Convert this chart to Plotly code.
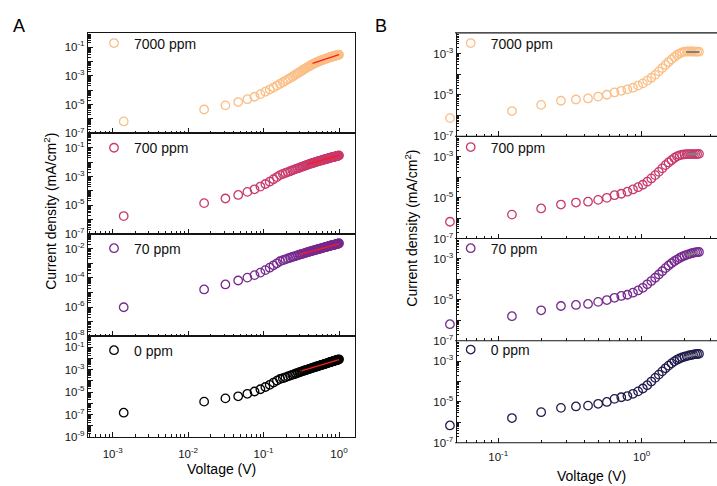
import plotly.graph_objects as go

FONT = "Liberation Sans, Arial, Helvetica, sans-serif"
INK = "#151515"
W, H = 717, 486

# ---------------------------------------------------------------- data
# Bias voltage (V) for the low-voltage sweeps (panel A)
voltage_a = [0.0014, 0.0163, 0.0312, 0.0461, 0.0610, 0.0759, 0.0908, 0.1057, 0.1206, 0.1355,
             0.1504, 0.1653, 0.1802, 0.1951, 0.2100, 0.2249, 0.2398, 0.2547, 0.2696, 0.2845,
             0.2994, 0.3143, 0.3292, 0.3441, 0.3590, 0.3739, 0.3888, 0.4037, 0.4186, 0.4335,
             0.4484, 0.4633, 0.4782, 0.4931, 0.5080, 0.5229, 0.5378, 0.5527, 0.5676, 0.5825,
             0.5974, 0.6123, 0.6272, 0.6421, 0.6570, 0.6719, 0.6868, 0.7017, 0.7166, 0.7315,
             0.7464, 0.7613, 0.7762, 0.7911, 0.8060, 0.8209, 0.8358, 0.8507, 0.8656, 0.8805,
             0.8954, 0.9103, 0.9252, 0.9401, 0.9550, 0.9699, 0.9848, 0.9997]

# Bias voltage (V) for the wide sweeps (panel B)
voltage_b = [0.0460, 0.1245, 0.1990, 0.2735, 0.3480, 0.4225, 0.4970, 0.5715, 0.6460, 0.7205,
             0.7950, 0.8695, 0.9440, 1.0185, 1.0930, 1.1675, 1.2420, 1.3165, 1.3910, 1.4655,
             1.5400, 1.6145, 1.6890, 1.7635, 1.8380, 1.9125, 1.9870, 2.0615, 2.1360, 2.2105,
             2.2850, 2.3595, 2.4340, 2.5085]

series_labels = ["7000 ppm", "700 ppm", "70 ppm", "0 ppm"]

# log10 of current density (mA/cm^2), panel A
logj_a_7000 = [-6.17, -5.34, -5.05, -4.82, -4.62, -4.45, -4.27, -4.10, -3.95, -3.81,
               -3.67, -3.55, -3.44, -3.34, -3.24, -3.15, -3.06, -2.97, -2.89, -2.81,
               -2.74, -2.67, -2.60, -2.54, -2.48, -2.42, -2.37, -2.32, -2.27, -2.22,
               -2.18, -2.14, -2.11, -2.08, -2.05, -2.02, -1.99, -1.97, -1.94, -1.92,
               -1.90, -1.88, -1.86, -1.84, -1.82, -1.80, -1.78, -1.76, -1.74, -1.73,
               -1.71, -1.70, -1.68, -1.67, -1.66, -1.64, -1.63, -1.62, -1.61, -1.60,
               -1.59, -1.58, -1.57, -1.56, -1.55, -1.54, -1.53, -1.52]
logj_a_700 = [-5.75, -4.85, -4.53, -4.28, -4.07, -3.89, -3.70, -3.52, -3.36, -3.19,
              -3.04, -2.90, -2.82, -2.75, -2.69, -2.63, -2.57, -2.52, -2.47, -2.43,
              -2.39, -2.35, -2.31, -2.27, -2.24, -2.20, -2.17, -2.14, -2.11, -2.09,
              -2.06, -2.04, -2.02, -1.99, -1.97, -1.95, -1.93, -1.91, -1.90, -1.88,
              -1.86, -1.85, -1.83, -1.81, -1.80, -1.78, -1.77, -1.76, -1.74, -1.73,
              -1.72, -1.70, -1.69, -1.68, -1.67, -1.66, -1.65, -1.64, -1.63, -1.62,
              -1.61, -1.60, -1.59, -1.58, -1.57, -1.56, -1.55, -1.53]
logj_a_70 = [-6.01, -4.79, -4.45, -4.18, -3.98, -3.81, -3.64, -3.47, -3.30, -3.14,
             -3.00, -2.86, -2.79, -2.73, -2.67, -2.62, -2.57, -2.53, -2.49, -2.45,
             -2.41, -2.38, -2.35, -2.32, -2.29, -2.26, -2.23, -2.21, -2.18, -2.16,
             -2.14, -2.12, -2.10, -2.08, -2.06, -2.04, -2.02, -2.01, -1.99, -1.97,
             -1.96, -1.94, -1.93, -1.91, -1.90, -1.88, -1.87, -1.86, -1.84, -1.83,
             -1.82, -1.80, -1.79, -1.78, -1.77, -1.76, -1.75, -1.74, -1.73, -1.72,
             -1.71, -1.70, -1.69, -1.68, -1.67, -1.66, -1.65, -1.63]
logj_a_0 = [-6.84, -5.85, -5.56, -5.37, -5.15, -4.94, -4.74, -4.54, -4.34, -4.14,
            -3.97, -3.82, -3.75, -3.67, -3.59, -3.52, -3.45, -3.39, -3.33, -3.27,
            -3.22, -3.17, -3.12, -3.08, -3.04, -3.00, -2.96, -2.92, -2.89, -2.85,
            -2.82, -2.79, -2.76, -2.73, -2.70, -2.68, -2.65, -2.62, -2.60, -2.57,
            -2.55, -2.53, -2.51, -2.48, -2.46, -2.44, -2.42, -2.40, -2.38, -2.36,
            -2.34, -2.32, -2.30, -2.29, -2.27, -2.25, -2.23, -2.22, -2.20, -2.18,
            -2.17, -2.15, -2.14, -2.12, -2.11, -2.09, -2.08, -2.06]

# log10 of current density (mA/cm^2), panel B
logj_b_7000 = [-6.12, -5.78, -5.48, -5.28, -5.22, -5.17, -5.08, -4.99, -4.88, -4.80,
               -4.73, -4.65, -4.55, -4.44, -4.31, -4.17, -4.03, -3.86, -3.70, -3.55,
               -3.41, -3.28, -3.17, -3.07, -3.00, -2.94, -2.91, -2.90, -2.90, -2.90,
               -2.90, -2.91, -2.91, -2.91]
logj_b_700 = [-6.18, -5.83, -5.53, -5.34, -5.24, -5.20, -5.11, -5.01, -4.88, -4.81,
              -4.71, -4.60, -4.49, -4.37, -4.22, -4.06, -3.90, -3.74, -3.57, -3.41,
              -3.28, -3.17, -3.06, -2.98, -2.93, -2.90, -2.88, -2.87, -2.87, -2.87,
              -2.87, -2.87, -2.87, -2.86]
logj_b_70 = [-6.19, -5.80, -5.51, -5.30, -5.25, -5.20, -5.10, -5.01, -4.90, -4.81,
             -4.75, -4.65, -4.54, -4.41, -4.24, -4.08, -3.92, -3.76, -3.60, -3.45,
             -3.32, -3.21, -3.11, -3.03, -2.95, -2.89, -2.84, -2.80, -2.76, -2.73,
             -2.70, -2.68, -2.67, -2.66]
logj_b_0 = [-6.15, -5.79, -5.50, -5.29, -5.22, -5.18, -5.09, -5.00, -4.85, -4.77,
            -4.71, -4.60, -4.48, -4.34, -4.18, -4.00, -3.82, -3.66, -3.50, -3.35,
            -3.22, -3.11, -3.01, -2.93, -2.87, -2.82, -2.78, -2.75, -2.72, -2.70,
            -2.68, -2.66, -2.65, -2.64]

# Linear fits over the high-bias region (voltage, log10 J)
fit_a_7000_v, fit_a_7000_logj = [0.446, 1.0], [-2.12, -1.51]
fit_a_700_v, fit_a_700_logj = [0.378, 1.0], [-2.15, -1.53]
fit_a_70_v, fit_a_70_logj = [0.302, 1.0], [-2.39, -1.67]
fit_a_0_v, fit_a_0_logj = [0.318, 1.0], [-3.10, -2.08]
fit_b_7000_v, fit_b_7000_logj = [2.04, 2.52], [-2.92, -2.92]
fit_b_700_v, fit_b_700_logj = [2.07, 2.49], [-2.87, -2.87]
fit_b_70_v, fit_b_70_logj = [2.06, 2.48], [-2.82, -2.69]
fit_b_0_v, fit_b_0_logj = [1.95, 2.44], [-2.82, -2.66]

# ---------------------------------------------------------------- styling
colors_a = ["#FBBE85", "#C8396C", "#76298E", "#000000"]
colors_b = ["#FBBE85", "#C8396C", "#76298E", "#211C4E"]
fit_color_a = "#FF1A1A"
fit_color_b = "#808080"

# panel geometry in pixels
a_x_px = (88, 355)
b_frame_left = 455.7
b_overhang = 8            # voltage axis of B starts a little left of its frame
b_x_px = (b_frame_left - b_overhang, 717)
a_edges = [33.3, 135, 237, 340.5, 442.3]
b_edges = [33.3, 138, 241.5, 345, 448.3]
a_yranges = [(-7, 0), (-7, 0), (-8, -1), (-9, 0)]
b_yranges = [(-7, -2)] * 4
a_label_parity = [1, 1, 0, 1]
b_label_parity = [1, 1, 1, 1]
a_xrange = [-3.327, 0.212]
b_px_per_dec = 143.4
b_xrange = [-1.297 - b_overhang / b_px_per_dec, -1.297 + (717 - b_frame_left) / b_px_per_dec]

a_legend_y = [44, 150, 251.7, 355]
b_legend_y = [44, 149.3, 251.7, 354.3]
a_legend_x = 114
b_legend_x = 470.7


def pxx(p):
    return p / W


def pxy(p):
    return 1 - p / H


def sup(e):
    return f"10<sup>{e}</sup>"


def minor_vals(lo, hi, vmin=0.0):
    vals = []
    for e in range(lo, hi + 1):
        for m in range(2, 10):
            v = m * 10.0 ** e
            if v >= vmin:
                vals.append(v)
    return vals


tick_font = dict(family=FONT, size=11.5, color=INK)

fig = go.Figure()

logj_a = [logj_a_7000, logj_a_700, logj_a_70, logj_a_0]
logj_b = [logj_b_7000, logj_b_700, logj_b_70, logj_b_0]
fits_a = [(fit_a_7000_v, fit_a_7000_logj), (fit_a_700_v, fit_a_700_logj),
          (fit_a_70_v, fit_a_70_logj), (fit_a_0_v, fit_a_0_logj)]
fits_b = [(fit_b_7000_v, fit_b_7000_logj), (fit_b_700_v, fit_b_700_logj),
          (fit_b_70_v, fit_b_70_logj), (fit_b_0_v, fit_b_0_logj)]

layout_axes = {}
legends = {}
shapes = []

for panel in range(8):
    n = panel + 1
    is_a = panel < 4
    row = panel % 4
    xs = voltage_a if is_a else voltage_b
    ys = (logj_a if is_a else logj_b)[row]
    col = (colors_a if is_a else colors_b)[row]
    fv, fl = (fits_a if is_a else fits_b)[row]
    xref = "x" if n == 1 else f"x{n}"
    yref = "y" if n == 1 else f"y{n}"
    leg = "legend" if n == 1 else f"legend{n}"

    fig.add_trace(go.Scatter(
        x=xs, y=[10 ** e for e in ys], mode="markers", name=series_labels[row],
        marker=dict(symbol="circle-open", size=8.5, color=col, line=dict(width=1.3, color=col)),
        xaxis=xref, yaxis=yref, legend=leg, cliponaxis=False, showlegend=True))
    fig.add_trace(go.Scatter(
        x=fv, y=[10 ** e for e in fl], mode="lines",
        line=dict(color=fit_color_a if is_a else fit_color_b, width=1.3 if is_a else 2),
        xaxis=xref, yaxis=yref, showlegend=False, hoverinfo="skip"))

    xpx = a_x_px if is_a else b_x_px
    edges = a_edges if is_a else b_edges
    lo, hi = (a_yranges if is_a else b_yranges)[row]
    parity = (a_label_parity if is_a else b_label_parity)[row]
    ydom = [pxy(edges[row + 1]), pxy(edges[row])]
    xdom = [pxx(xpx[0]), min(1.0, pxx(xpx[1]))]

    if is_a:
        xt = [1e-3, 1e-2, 1e-1, 1.0]
        xtt = [sup(-3), sup(-2), sup(-1), sup(0)]
        xminor = minor_vals(-4, 0)
        xr = a_xrange
    else:
        xt = [1e-1, 1.0]
        xtt = [sup(-1), sup(0)]
        xminor = minor_vals(-2, 0, vmin=0.06)
        xr = b_xrange

    layout_axes["xaxis" if n == 1 else f"xaxis{n}"] = dict(
        type="log", range=xr, domain=xdom, anchor=yref,
        showline=is_a, mirror=is_a, linecolor=INK, linewidth=1.2,
        showgrid=False, zeroline=False,
        tickmode="array", tickvals=xt, ticktext=xtt,
        ticks="inside", ticklen=5, tickwidth=1, tickcolor=INK,
        showticklabels=(row == 3), tickfont=tick_font, ticklabelstandoff=6,
        minor=dict(tickmode="array", tickvals=xminor, ticks="inside", ticklen=2.5,
                   tickwidth=0.8, tickcolor=INK))

    decades = list(range(lo, hi + 1))
    yaxis = dict(
        type="log", range=[lo, hi], domain=ydom,
        showline=True, mirror=is_a, linecolor=INK, linewidth=1.2,
        showgrid=False, zeroline=False,
        tickmode="array", tickvals=[10.0 ** e for e in decades],
        ticktext=[sup(e) if e % 2 == parity else "" for e in decades],
        ticks="inside", ticklen=4.5, tickwidth=1, tickcolor=INK, tickfont=tick_font,
        minor=dict(tickmode="array", tickvals=minor_vals(lo, hi), ticks="inside",
                   ticklen=2.5, tickwidth=0.8, tickcolor=INK))
    if is_a:
        yaxis["anchor"] = xref
    else:
        yaxis["anchor"] = "free"
        yaxis["position"] = pxx(b_frame_left)
    layout_axes["yaxis" if n == 1 else f"yaxis{n}"] = yaxis

    ly = (a_legend_y if is_a else b_legend_y)[row]
    lx = a_legend_x if is_a else b_legend_x
    legends[leg] = dict(
        x=pxx(lx - 20), y=pxy(ly), xanchor="left", yanchor="middle",
        bgcolor="rgba(0,0,0,0)", borderwidth=0, itemwidth=30,
        font=dict(family=FONT, size=14, color="#111111"))

# horizontal frame lines of the B stack (start at the frame, not at the axis origin)
for edge in b_edges:
    shapes.append(dict(type="line", xref="paper", yref="paper",
                       x0=pxx(b_frame_left - 0.6), x1=1.0, y0=pxy(edge), y1=pxy(edge),
                       line=dict(color=INK, width=1.2)))

annotations = [
    dict(text="A", x=pxx(18.7), y=pxy(26), font=dict(size=18)),
    dict(text="B", x=pxx(380.5), y=pxy(26), font=dict(size=18)),
    dict(text="Voltage (V)", x=pxx(222), y=pxy(475), font=dict(size=14)),
    dict(text="Voltage (V)", x=pxx(591), y=pxy(482), font=dict(size=14)),
    dict(text="Current density (mA/cm<sup>2</sup>)", x=pxx(50.5), y=pxy(214),
         textangle=-90, font=dict(size=14)),
    dict(text="Current density (mA/cm<sup>2</sup>)", x=pxx(411.5), y=pxy(231),
         textangle=-90, font=dict(size=14)),
]
for a in annotations:
    a.update(xref="paper", yref="paper", showarrow=False, xanchor="center", yanchor="middle")
    a["font"].update(family=FONT, color="#000000")

fig.update_layout(
    width=W, height=H, autosize=False,
    margin=dict(l=0, r=0, t=0, b=0),
    paper_bgcolor="white", plot_bgcolor="rgba(0,0,0,0)",
    font=dict(family=FONT, color=INK),
    annotations=annotations, shapes=shapes,
    **layout_axes, **legends)

fig.write_html("out.html")
